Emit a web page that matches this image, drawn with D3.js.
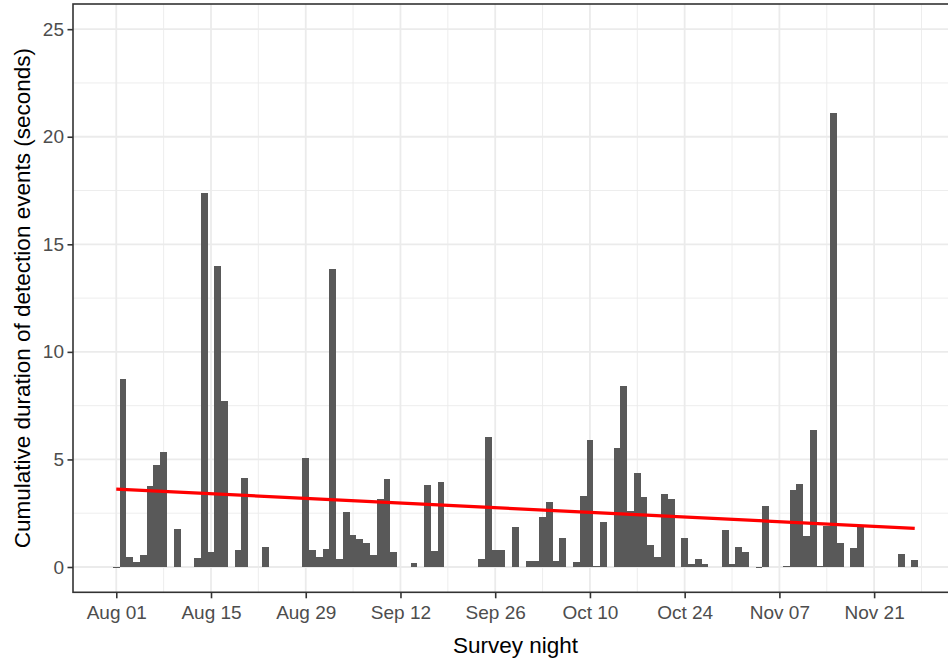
<!DOCTYPE html>
<html>
<head>
<meta charset="utf-8">
<script src="https://cdn.jsdelivr.net/npm/d3@7"></script>
<style>
  html, body { margin: 0; padding: 0; background: #ffffff; }
  svg { display: block; font-family: "Liberation Sans", Arial, sans-serif; }
</style>
</head>
<body>
<svg id="chart" width="948" height="659"></svg>
<script>
// Nightly cumulative detection duration (seconds); nights without detections are omitted.
const nights = [
  "2019-08-01","2019-08-02","2019-08-03","2019-08-04","2019-08-05","2019-08-06","2019-08-07","2019-08-08",
  "2019-08-10","2019-08-13","2019-08-14","2019-08-15","2019-08-16","2019-08-17","2019-08-19","2019-08-20",
  "2019-08-23","2019-08-29","2019-08-30","2019-08-31","2019-09-01","2019-09-02","2019-09-03","2019-09-04",
  "2019-09-05","2019-09-06","2019-09-07","2019-09-08","2019-09-09","2019-09-10","2019-09-11","2019-09-14",
  "2019-09-16","2019-09-17","2019-09-18","2019-09-24","2019-09-25","2019-09-26","2019-09-27","2019-09-29",
  "2019-10-01","2019-10-02","2019-10-03","2019-10-04","2019-10-05","2019-10-06","2019-10-08","2019-10-09",
  "2019-10-10","2019-10-11","2019-10-12","2019-10-14","2019-10-15","2019-10-16","2019-10-17","2019-10-18",
  "2019-10-19","2019-10-20","2019-10-21","2019-10-22","2019-10-24","2019-10-25","2019-10-26","2019-10-27",
  "2019-10-30","2019-10-31","2019-11-01","2019-11-02","2019-11-04","2019-11-05","2019-11-08","2019-11-09",
  "2019-11-10","2019-11-11","2019-11-12","2019-11-13","2019-11-14","2019-11-15","2019-11-16","2019-11-18",
  "2019-11-19","2019-11-25","2019-11-27"
];
const durations = [
  0.02, 8.75, 0.45, 0.22, 0.55, 3.77, 4.75, 5.35,
  1.75, 0.40, 17.40, 0.70, 14.00, 7.70, 0.80, 4.15,
  0.93, 5.05, 0.78, 0.45, 0.84, 13.83, 0.38, 2.55,
  1.48, 1.30, 1.12, 0.56, 3.15, 4.08, 0.68, 0.17,
  3.80, 0.76, 3.95, 0.36, 6.02, 0.80, 0.80, 1.88,
  0.28, 0.30, 2.34, 3.00, 0.28, 1.34, 0.24, 3.30,
  5.90, 0.03, 2.10, 5.52, 8.40, 2.58, 4.36, 3.24,
  1.00, 0.48, 3.40, 3.16, 1.34, 0.16, 0.38, 0.14,
  1.70, 0.13, 0.93, 0.70, 0.02, 2.84, 0.05, 3.58,
  3.86, 1.44, 6.38, 0.05, 1.92, 21.10, 1.13, 0.88,
  1.92, 0.59, 0.31
];

// Linear trend (fitted values at the first and last survey night)
const trendNights = ["2019-08-01", "2019-11-27"];
const trendValues = [3.62, 1.80];

// Axis breaks
const xTickDates = ["2019-08-01","2019-08-15","2019-08-29","2019-09-12","2019-09-26",
                    "2019-10-10","2019-10-24","2019-11-07","2019-11-21"];
const xMinorDates = ["2019-07-25","2019-08-08","2019-08-22","2019-09-05","2019-09-19",
                     "2019-10-03","2019-10-17","2019-10-31","2019-11-14","2019-11-28"];
const yTicks = [0, 5, 10, 15, 20, 25];
const yMinorTicks = [2.5, 7.5, 12.5, 17.5, 22.5];

const parse = d3.utcParse("%Y-%m-%d");
const DAY = 864e5;
const data = nights.map((n, i) => ({ date: parse(n), value: durations[i] }));

const svg = d3.select("#chart");
const panel = { left: 73, top: 4, right: 958, bottom: 592.3 };

// Bars span half a day either side; the scale is padded 5% beyond the bar extent
const first = d3.min(data, d => d.date), last = d3.max(data, d => d.date);
const lo = +first - 0.45 * DAY, hi = +last + 0.45 * DAY, pad = 0.05 * (hi - lo);
const x = d3.scaleUtc()
  .domain([new Date(lo - pad), new Date(hi + pad)])
  .range([panel.left, panel.right]);
const y = d3.scaleLinear()
  .domain([-1.176, 26.17])
  .range([panel.bottom, panel.top]);

const g = svg.append("g");
svg.append("clipPath").attr("id", "panel-clip")
  .append("rect")
  .attr("x", panel.left).attr("y", panel.top)
  .attr("width", panel.right - panel.left).attr("height", panel.bottom - panel.top);

const grid = g.append("g").attr("clip-path", "url(#panel-clip)");
// minor grid
grid.selectAll("line.ymin").data(yMinorTicks).join("line")
  .attr("x1", panel.left).attr("x2", panel.right)
  .attr("y1", d => y(d)).attr("y2", d => y(d))
  .attr("stroke", "#ebebeb").attr("stroke-width", 0.9);
grid.selectAll("line.xmin").data(xMinorDates.map(parse)).join("line")
  .attr("y1", panel.top).attr("y2", panel.bottom)
  .attr("x1", d => x(d)).attr("x2", d => x(d))
  .attr("stroke", "#ebebeb").attr("stroke-width", 0.9);
// major grid
grid.selectAll("line.ymaj").data(yTicks).join("line")
  .attr("x1", panel.left).attr("x2", panel.right)
  .attr("y1", d => y(d)).attr("y2", d => y(d))
  .attr("stroke", "#ebebeb").attr("stroke-width", 1.8);
grid.selectAll("line.xmaj").data(xTickDates.map(parse)).join("line")
  .attr("y1", panel.top).attr("y2", panel.bottom)
  .attr("x1", d => x(d)).attr("x2", d => x(d))
  .attr("stroke", "#ebebeb").attr("stroke-width", 1.8);

// bars (crisp edges so neighbouring nights join without seams)
g.append("g").attr("clip-path", "url(#panel-clip)")
  .attr("shape-rendering", "crispEdges")
  .selectAll("rect").data(data).join("rect")
  .attr("x", d => Math.round(x(new Date(+d.date - 0.5 * DAY))))
  .attr("width", d => Math.round(x(new Date(+d.date + 0.5 * DAY))) - Math.round(x(new Date(+d.date - 0.5 * DAY))))
  .attr("y", d => y(d.value))
  .attr("height", d => Math.max(1, y(0) - y(d.value)))
  .attr("fill", "#595959");

// trend line
const trend = trendNights.map((n, i) => ({ date: parse(n), value: trendValues[i] }));
g.append("path")
  .datum(trend)
  .attr("d", d3.line().x(d => x(d.date)).y(d => y(d.value)))
  .attr("fill", "none")
  .attr("stroke", "#ff0000")
  .attr("stroke-width", 3.2);

// panel border
g.append("rect")
  .attr("x", panel.left).attr("y", panel.top)
  .attr("width", panel.right - panel.left).attr("height", panel.bottom - panel.top)
  .attr("fill", "none").attr("stroke", "#333333").attr("stroke-width", 1.6);

// y axis
const yAxis = g.append("g")
  .attr("transform", `translate(${panel.left},0)`)
  .call(d3.axisLeft(y).tickValues(yTicks).tickSize(5.5).tickPadding(3.5).tickFormat(d3.format("d")));
yAxis.select(".domain").remove();
yAxis.selectAll("line").attr("stroke", "#333333").attr("stroke-width", 1.6);
yAxis.selectAll("text")
  .attr("fill", "#4d4d4d").style("font-size", "19px")
  .style("font-family", "'Liberation Sans', Arial, sans-serif");

// x axis
const xAxis = g.append("g")
  .attr("transform", `translate(0,${panel.bottom})`)
  .call(d3.axisBottom(x).tickValues(xTickDates.map(parse)).tickSize(6)
        .tickFormat(d3.utcFormat("%b %d")));
xAxis.select(".domain").remove();
xAxis.selectAll("line").attr("stroke", "#333333").attr("stroke-width", 1.6);
xAxis.selectAll("text")
  .attr("y", 27).attr("dy", 0)
  .attr("fill", "#4d4d4d").style("font-size", "19px")
  .style("font-family", "'Liberation Sans', Arial, sans-serif");

// axis titles
svg.append("text")
  .attr("x", (panel.left + panel.right) / 2).attr("y", 653)
  .attr("text-anchor", "middle")
  .style("font-size", "22.5px").attr("fill", "#000")
  .text("Survey night");
svg.append("text")
  .attr("transform", `translate(30,${(panel.top + panel.bottom) / 2}) rotate(-90)`)
  .attr("text-anchor", "middle")
  .style("font-size", "22.5px").attr("fill", "#000")
  .text("Cumulative duration of detection events (seconds)");
</script>
</body>
</html>
